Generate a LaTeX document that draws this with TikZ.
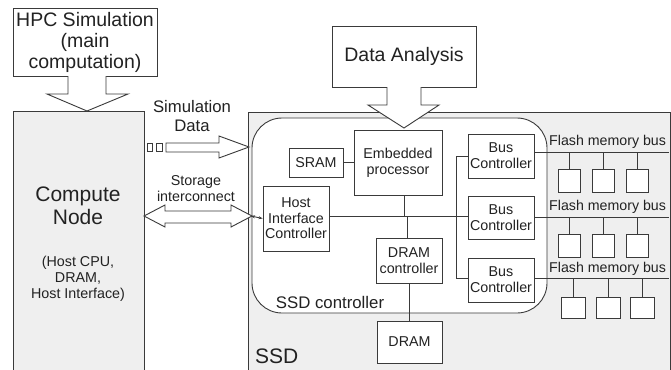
\documentclass[tikz,border=0pt]{standalone}
\usepackage{fontspec}
\setmainfont{Liberation Sans}
\usetikzlibrary{arrows.meta}
\definecolor{ln}{HTML}{3A3A3A}
\definecolor{gfill}{HTML}{EFEFEF}
\definecolor{tx}{HTML}{222222}
\begin{document}
\begin{tikzpicture}[x=1pt,y=-1pt,
  every node/.style={text=tx},
  box/.style={draw=ln,line width=0.9pt,fill=white,inner sep=0pt,align=center,font=\fontsize{14.3}{16}\selectfont},
  blk/.style={draw=ln,line width=0.9pt,fill=white,line join=miter},
  wire/.style={draw=ln,line width=0.9pt},
  chip/.style={draw=ln,line width=0.9pt,fill=white,inner sep=0pt},
  lbl/.style={inner sep=0pt,align=center}]
\clip (0,0) rectangle (671,369);
\fill[white] (0,0) rectangle (671,369);

% big boxes
\node[box,fill=gfill,minimum width=131,minimum height=262] (cn) at (78.5,242) {};
\node[box,fill=gfill,minimum width=422,minimum height=261] (ssd) at (459,242.5) {};
\node[box,rounded corners=30pt,minimum width=295,minimum height=195] (ctrl) at (399.5,215.5) {};

\node[box,minimum width=144,minimum height=68,font=\fontsize{19.5}{21}\selectfont] (hpc) at (85,42) {HPC Simulation\\(main\\computation)};
\node[box,minimum width=144,minimum height=61,font=\fontsize{19.5}{21}\selectfont] (da) at (404,56.5) {Data Analysis};

% block arrows
\draw[blk] (68,76)--(68,94)--(47,94)--(87,111)--(128,94)--(106,94)--(106,76);
\draw[blk] (387,87)--(387,105)--(368,105)--(404,128)--(439,105)--(421,105)--(421,87);
\draw[blk] (166,143)--(219,143)--(219,136)--(249,147)--(219,158)--(219,152)--(166,152)--cycle;
\draw[blk] (147,143) rectangle (152,151);
\draw[blk] (156,143) rectangle (162,151);
\draw[blk] (144,216)--(165,205)--(165,211)--(231,211)--(231,205)--(252,216)--(231,227)--(231,223)--(165,223)--(165,227)--cycle;

% texts
\node[lbl,font=\fontsize{21}{23}\selectfont] (cnt) at (78,205.5) {Compute\\Node};
\node[lbl,font=\fontsize{14.3}{16}\selectfont] (cnsub) at (78,279) {(Host CPU,\\DRAM,\\Host Interface)};
\node[lbl,font=\fontsize{16.7}{19}\selectfont] (simd) at (192,116.5) {Simulation\\Data};
\node[lbl,font=\fontsize{14.3}{16}\selectfont] (stor) at (196,189) {Storage\\interconnect};
\node[lbl,font=\fontsize{16.8}{19}\selectfont] (ctrlt) at (330,302) {SSD controller};
\node[lbl,anchor=west,font=\fontsize{21}{23}\selectfont] (ssdt) at (255,356) {SSD};

% inner boxes
\node[box,minimum width=88,minimum height=65] (ep) at (398,162.5) {Embedded\\processor};
\node[box,minimum width=54,minimum height=29] (sram) at (316,162.5) {SRAM};
\node[box,minimum width=66,minimum height=65,font=\fontsize{14.3}{15.5}\selectfont] (hic) at (296,218.5) {Host\\Interface\\Controller};
\node[box,minimum width=66,minimum height=45] (dc) at (409,260.5) {DRAM\\controller};
\node[box,minimum width=65,minimum height=42] (dram) at (409.5,342) {DRAM};
\node[box,minimum width=66,minimum height=44] (bc1) at (501,156) {Bus\\Controller};
\node[box,minimum width=66,minimum height=43] (bc2) at (501,217.5) {Bus\\Controller};
\node[box,minimum width=66,minimum height=44] (bc3) at (501,280) {Bus\\Controller};

% wires
\coordinate (busR) at (456,216);
\coordinate (busT) at (456,156);
\coordinate (busB) at (456,278);
\coordinate (epj) at (404,216);
\coordinate (dcj) at (407,216);
\draw[wire] (hic.east |- busR) -- (busR);
\draw[wire] (sram.east) -- (ep.west |- sram.east);
\draw[wire] (ep.south -| epj) -- (epj);
\draw[wire] (dcj) -- (dc.north -| dcj);
\draw[wire] (busT) -- (busB);
\draw[wire] (busT) -- (bc1.west);
\draw[wire] (busR) -- (bc2.west |- busR);
\draw[wire] (busB) -- (bc3.west |- busB);
\coordinate (dj) at (409,283);
\draw[wire] (dc.south -| dj) -- (dram.north -| dj);
\draw[wire,{Stealth[length=4pt,width=3pt]}-{Stealth[length=4pt,width=3pt]}] (251,216) -- (hic.west);

% flash buses
\coordinate (f1) at (669,152);
\coordinate (f2) at (669,217);
\coordinate (f3) at (669,278);
\draw[wire] (bc1.east |- f1) -- (f1);
\draw[wire] (bc2.east |- f2) -- (f2);
\draw[wire] (bc3.east |- f3) -- (f3);
\node[lbl,anchor=west,font=\fontsize{14.2}{16}\selectfont] (fb1) at (549,142) {Flash memory bus};
\node[lbl,anchor=west,font=\fontsize{14.2}{16}\selectfont] (fb2) at (549,207) {Flash memory bus};
\node[lbl,anchor=west,font=\fontsize{14.2}{16}\selectfont] (fb3) at (549,269) {Flash memory bus};

% chips
\foreach \i/\cx in {1/569,2/603,3/637.5}{
  \node[chip,minimum width=22,minimum height=23] (ca\i) at (\cx,180.5) {};
  \draw[wire] (ca\i.north) -- (ca\i.north |- f1);
  \node[chip,minimum width=22,minimum height=23] (cb\i) at (\cx,245.5) {};
  \draw[wire] (cb\i.north) -- (cb\i.north |- f2);
}
\foreach \i/\cx in {1/573.5,2/608,3/642}{
  \node[chip,minimum width=24,minimum height=21] (cc\i) at (\cx,307.5) {};
  \draw[wire] (cc\i.north) -- (cc\i.north |- f3);
}
\end{tikzpicture}
\end{document}
